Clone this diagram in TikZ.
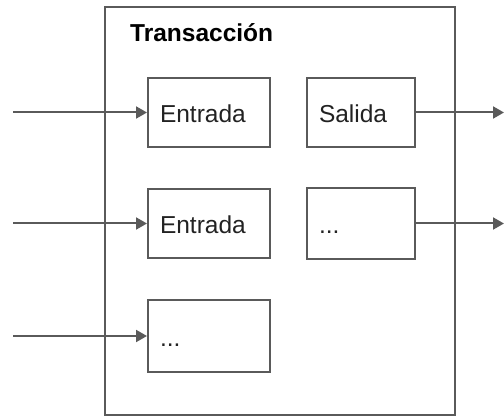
\documentclass[tikz,border=0pt]{standalone}
\usepackage{fontspec}
\setmainfont{Liberation Sans}
\usetikzlibrary{arrows.meta, positioning}

\definecolor{linegray}{HTML}{5A5A5A}
\definecolor{textgray}{HTML}{222222}

\begin{document}
\begin{tikzpicture}[x=1pt, y=-1pt,
    part/.style={draw=linegray, line width=2pt, minimum height=69pt,
        inner xsep=12pt, align=left, text height=21pt, text depth=1pt,
        text=textgray, font=\fontsize{24.5}{28}\selectfont},
    wide/.style={part, minimum width=122pt, text width=98pt},
    narrow/.style={part, minimum width=108pt, text width=84pt},
    flow/.style={draw=linegray, line width=2pt,
        -{Triangle[length=11pt, width=12pt]}}]
    \useasboundingbox (0,0) rectangle (504,417);

    % Transaction box
    \draw[linegray, line width=2pt] (105,7) rectangle (455,415);
    \node[anchor=base west, inner sep=0pt, font=\fontsize{24.5}{28}\selectfont\bfseries] (title) at (130,42) {Transacción};

    % Inputs and outputs
    \node[wide] (in1) at (209,112.5) {Entrada};
    \node[narrow] (out1) at (361,112.5) {Salida};
    \node[wide] (in2) at (209,223.5) {Entrada};
    \node[narrow, minimum height=71pt] (out2) at (361,223.5) {...};
    \node[wide, minimum height=72pt] (in3) at (209,336) {...};

    % Free ends of the arrows
    \coordinate (src1) at (13,112.5);
    \coordinate (src2) at (13,223.5);
    \coordinate (src3) at (13,336);
    \coordinate (dst1) at (504,112.5);
    \coordinate (dst2) at (504,223.5);

    % Arrows
    \draw[flow] (src1) -- (in1);
    \draw[flow] (src2) -- (in2);
    \draw[flow] (src3) -- (in3);
    \draw[flow] (out1) -- (dst1);
    \draw[flow] (out2) -- (dst2);
\end{tikzpicture}
\end{document}
